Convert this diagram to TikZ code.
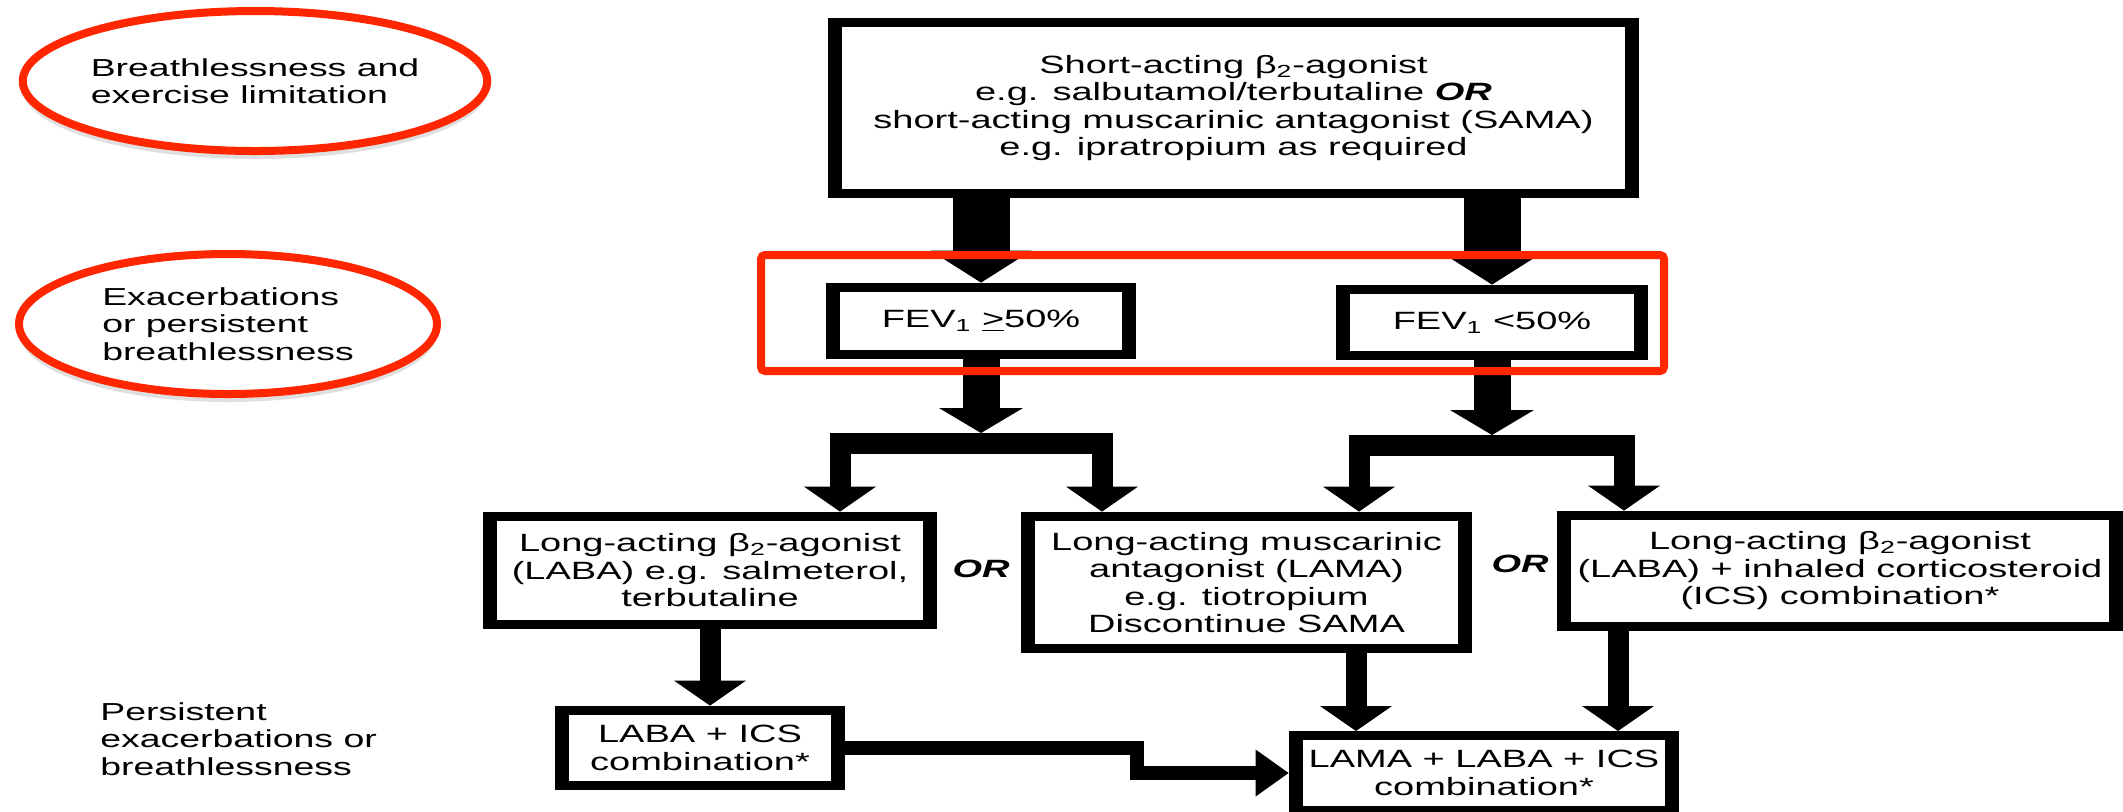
\documentclass[tikz,border=0pt]{standalone}
\usepackage{fontspec}
\setmainfont{Liberation Sans}[FakeStretch=1.52]
\usepackage{tikz}
\usetikzlibrary{arrows.meta}
\usetikzlibrary{shapes.geometric}
\usetikzlibrary{shadows}
\definecolor{annored}{RGB}{255,38,0}

\begin{document}
\begin{tikzpicture}[
        x = 0.5pt, y = -0.5pt,
        flowbox/.style = {rectangle, fill=black, inner sep=0pt, align=center,
            font=\fontsize{12.5}{13.75}\selectfont,
            path picture={\fill[white] ([shift={(7pt,-4.5pt)}]path picture bounding box.north west)
                rectangle ([shift={(-7pt,4.5pt)}]path picture bounding box.south east);}},
        annoellipse/.style = {ellipse, draw=annored, line width=4pt, fill=white, align=left,
            inner sep=0pt, font=\fontsize{12.3}{13.75}\selectfont,
            drop shadow={shadow xshift=0pt, shadow yshift=-4pt, opacity=0.25}},
        sidelabel/.style = {align=left, inner sep=0pt, font=\fontsize{12.3}{13.75}\selectfont},
        orlabel/.style = {inner sep=0pt, font=\fontsize{12.5}{13.75}\selectfont\bfseries\itshape},
        bigarrow/.style = {line width=28.5pt, -{Triangle[width=50.5pt, length=16pt, line width=0pt]}},
        midarrow/.style = {line width=18.5pt, -{Triangle[width=42pt, length=12.5pt, line width=0pt]}},
        armarrow/.style = {line width=10.5pt, -{Triangle[width=36pt, length=12.5pt, line width=0pt]}},
        armfork/.style = {line width=10.5pt, line join=miter,
            {Triangle[width=36pt, length=12.5pt, line width=0pt]}-{Triangle[width=36pt, length=12.5pt, line width=0pt]}},
        steparrow/.style = {line width=7pt, line join=miter,
            -{Triangle[width=23.5pt, length=16.5pt, line width=0pt]}},
        ]

        \path[fill=white, use as bounding box] (0,0) rectangle (2123,811);

        % Stage labels
        \node[annoellipse, minimum width=209pt, minimum height=70pt] (breath) at (255,81)
            {Breathlessness and\\exercise limitation};
        \node[annoellipse, minimum width=209pt, minimum height=70pt] (exacer) at (228,324)
            {Exacerbations\\or persistent\\breathlessness};
        \node[sidelabel, anchor=west] (persist) at (100,739)
            {Persistent\\exacerbations or\\breathlessness};

        % Boxes
        \node[flowbox, minimum width=405.5pt, minimum height=90pt] (sabox) at (1233.5,108)
            {Short-acting β\textsubscript{2}-agonist\\e.g. salbutamol/terbutaline \textbf{\textit{OR}}\\
             short-acting muscarinic antagonist (SAMA)\\e.g. ipratropium as required};
        \node[flowbox, minimum width=155pt, minimum height=38pt] (fevhi) at (981,321)
            {FEV\textsubscript{1} \underline{>}50\%};
        \node[flowbox, minimum width=156pt, minimum height=37.5pt] (fevlo) at (1492,322.5)
            {FEV\textsubscript{1} <50\%};
        \node[flowbox, minimum width=227pt, minimum height=58.5pt] (laba) at (710,570.5)
            {Long-acting β\textsubscript{2}-agonist\\(LABA) e.g. salmeterol,\\terbutaline};
        \node[flowbox, minimum width=225.5pt, minimum height=70.5pt] (lama) at (1246.5,582.5)
            {Long-acting muscarinic\\antagonist (LAMA)\\e.g. tiotropium\\Discontinue SAMA};
        \node[flowbox, minimum width=283pt, minimum height=60pt] (labaics) at (1840,571)
            {Long-acting β\textsubscript{2}-agonist\\(LABA) + inhaled corticosteroid\\(ICS) combination*};
        \node[flowbox, minimum width=145pt, minimum height=42pt] (icscombo) at (700,748)
            {LABA + ICS\\combination*};
        \node[flowbox, minimum width=195pt, minimum height=42pt] (triple) at (1484,773)
            {LAMA + LABA + ICS\\combination*};

        \node[orlabel] (or1) at (981,569) {OR};
        \node[orlabel] (or2) at (1520,564) {OR};

        % Fork points
        \coordinate (hiJ) at (981,433);
        \coordinate (hiL) at (840,443.5);
        \coordinate (hiR) at (1102,443.5);
        \coordinate (loJ) at (1492,435);
        \coordinate (loL) at (1359,445.5);
        \coordinate (loR) at (1624,445.5);
        \coordinate (tL) at (1356,731);
        \coordinate (tR) at (1618,731);
        \coordinate (kink) at (1137,773);

        % Arrows
        \draw[bigarrow] (sabox.south -| fevhi.north) -- (fevhi.north);
        \draw[bigarrow] (sabox.south -| fevlo.north) -- (fevlo.north);
        \draw[midarrow] (fevhi.south) -- (hiJ);
        \draw[midarrow] (fevlo.south) -- (loJ);
        \draw[armfork] (hiL |- laba.north) -- (hiL) -- (hiR) -- (hiR |- lama.north);
        \draw[armfork] (loL |- lama.north) -- (loL) -- (loR) -- (loR |- labaics.north);
        \draw[armarrow] (laba.south) -- (laba.south |- icscombo.north);
        \draw[armarrow] (lama.south -| tL) -- (tL);
        \draw[armarrow] (labaics.south -| tR) -- (tR);
        \draw[steparrow] (icscombo.east) -| (kink) -- (triple.west);

        % FEV1 split
        \draw[annored, line width=4pt, rounded corners=2pt] (761,255) rectangle (1664,371);
\end{tikzpicture}
\end{document}
